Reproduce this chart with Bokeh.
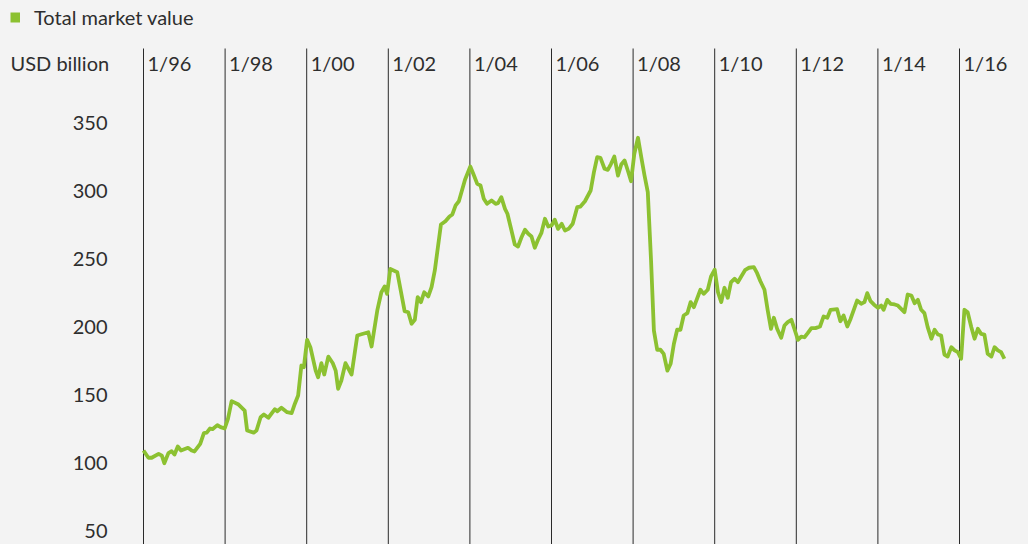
from bokeh.plotting import figure
from bokeh.models import (Range1d, Legend, LegendItem, Label, LabelSet,
                          ColumnDataSource)
from bokeh.core.properties import value
from bokeh.embed import file_html
from bokeh.resources import INLINE

# ---------------- data ----------------
series_name = "Total market value"
unit_label = "USD billion"

# dates as decimal years (month resolution), values in USD billion
dates = [
    1996.00, 1996.12, 1996.20, 1996.37, 1996.45, 1996.51, 1996.61, 1996.69, 1996.76, 1996.84,
    1996.92, 1997.09, 1997.18, 1997.25, 1997.39, 1997.48, 1997.55, 1997.63, 1997.69, 1997.81,
    1997.89, 1997.99, 1998.07, 1998.16, 1998.33, 1998.48, 1998.54, 1998.70, 1998.77, 1998.87,
    1998.95, 1999.06, 1999.22, 1999.28, 1999.38, 1999.52, 1999.63, 1999.71, 1999.79, 1999.87,
    1999.93, 2000.01, 2000.09, 2000.22, 2000.28, 2000.36, 2000.43, 2000.53, 2000.64, 2000.71,
    2000.77, 2000.85, 2000.95, 2001.10, 2001.24, 2001.32, 2001.51, 2001.59, 2001.73, 2001.83,
    2001.91, 2001.97, 2002.05, 2002.22, 2002.40, 2002.49, 2002.57, 2002.65, 2002.72, 2002.80,
    2002.88, 2002.98, 2003.06, 2003.14, 2003.29, 2003.40, 2003.50, 2003.57, 2003.65, 2003.73,
    2003.88, 2004.01, 2004.10, 2004.18, 2004.26, 2004.34, 2004.42, 2004.53, 2004.63, 2004.69,
    2004.77, 2004.86, 2004.92, 2005.00, 2005.10, 2005.18, 2005.26, 2005.35, 2005.43, 2005.51,
    2005.59, 2005.67, 2005.75, 2005.84, 2005.92, 2006.00, 2006.08, 2006.16, 2006.25, 2006.33,
    2006.42, 2006.52, 2006.63, 2006.71, 2006.82, 2006.96, 2007.04, 2007.12, 2007.20, 2007.30,
    2007.38, 2007.46, 2007.54, 2007.63, 2007.71, 2007.79, 2007.87, 2007.95, 2008.03, 2008.12,
    2008.20, 2008.28, 2008.36, 2008.44, 2008.51, 2008.59, 2008.67, 2008.75, 2008.84, 2008.92,
    2009.00, 2009.08, 2009.16, 2009.24, 2009.33, 2009.41, 2009.49, 2009.65, 2009.73, 2009.83,
    2009.91, 2010.00, 2010.08, 2010.16, 2010.24, 2010.32, 2010.40, 2010.49, 2010.57, 2010.65,
    2010.75, 2010.84, 2010.96, 2011.04, 2011.12, 2011.22, 2011.30, 2011.38, 2011.45, 2011.53,
    2011.63, 2011.71, 2011.79, 2011.88, 2011.96, 2012.04, 2012.12, 2012.20, 2012.28, 2012.37,
    2012.47, 2012.58, 2012.67, 2012.76, 2012.84, 2013.00, 2013.08, 2013.16, 2013.25, 2013.33,
    2013.49, 2013.59, 2013.67, 2013.74, 2013.82, 2013.90, 2014.00, 2014.08, 2014.14, 2014.23,
    2014.31, 2014.41, 2014.49, 2014.57, 2014.65, 2014.73, 2014.82, 2014.90, 2014.98, 2015.06,
    2015.14, 2015.22, 2015.31, 2015.39, 2015.47, 2015.55, 2015.63, 2015.71, 2015.80, 2015.88,
    2015.96, 2016.04, 2016.12, 2016.20, 2016.29, 2016.37, 2016.45, 2016.53, 2016.61, 2016.69,
    2016.78, 2016.86, 2016.94, 2017.02, 2017.10,
]
market_value = [
    108.8, 103.5, 103.5, 106.4, 105.0, 99.5, 106.9, 108.3, 105.9, 111.8,
    108.8, 110.8, 108.8, 108.1, 113.7, 121.6, 122.0, 125.0, 124.5, 127.5,
    126.0, 125.0, 132.1, 145.1, 142.6, 138.2, 123.5, 122.0, 123.5, 133.3,
    135.3, 132.9, 139.2, 137.7, 140.2, 137.0, 136.3, 143.2, 149.3, 171.3,
    170.1, 190.2, 184.8, 167.6, 162.7, 173.0, 164.7, 177.9, 173.0, 167.6,
    154.2, 160.3, 173.0, 164.7, 193.4, 194.1, 195.8, 185.3, 211.8, 225.2,
    229.4, 224.0, 242.4, 239.9, 211.3, 210.5, 202.0, 204.9, 221.6, 217.9,
    225.2, 222.1, 228.9, 241.2, 275.0, 277.4, 280.9, 282.4, 289.0, 292.1,
    307.9, 317.6, 311.0, 304.9, 303.7, 293.9, 290.2, 292.6, 290.2, 290.7,
    295.1, 286.5, 282.9, 273.0, 260.3, 258.8, 265.2, 271.1, 268.2, 266.2,
    257.9, 263.8, 268.6, 279.2, 273.5, 274.3, 278.5, 271.8, 275.5, 270.6,
    271.8, 275.5, 287.7, 288.2, 292.1, 300.0, 313.5, 324.5, 324.0, 316.0,
    315.2, 319.6, 325.0, 311.0, 319.1, 322.1, 314.7, 306.8, 327.0, 338.8,
    324.5, 311.0, 298.8, 248.5, 197.0, 182.9, 182.9, 179.9, 167.6, 172.6,
    187.3, 197.6, 197.6, 208.1, 209.8, 217.9, 214.2, 227.0, 224.0, 227.0,
    236.8, 241.7, 225.2, 217.9, 228.5, 221.1, 232.6, 235.1, 232.6, 236.8,
    241.7, 243.2, 243.6, 239.2, 233.3, 227.0, 211.8, 198.3, 206.4, 198.3,
    191.7, 200.7, 203.2, 204.9, 197.6, 190.2, 192.6, 192.1, 195.1, 198.8,
    198.8, 200.0, 207.4, 206.4, 212.3, 212.7, 203.9, 208.1, 200.0, 205.6,
    219.1, 216.7, 217.9, 224.5, 218.6, 216.2, 213.7, 215.4, 212.3, 219.6,
    216.7, 216.2, 215.4, 213.0, 210.5, 223.5, 222.8, 217.1, 219.6, 212.3,
    209.8, 199.5, 191.0, 197.6, 194.1, 193.4, 179.4, 177.9, 184.8, 182.4,
    181.1, 176.3, 212.3, 210.5, 199.5, 191.0, 198.3, 194.6, 194.1, 180.0,
    177.9, 184.8, 182.4, 181.1, 176.3,
]

x_tick_years = [1996, 1998, 2000, 2002, 2004, 2006, 2008, 2010, 2012, 2014, 2016]
x_tick_labels = ["1/96", "1/98", "1/00", "1/02", "1/04", "1/06",
                 "1/08", "1/10", "1/12", "1/14", "1/16"]
y_ticks = [50, 100, 150, 200, 250, 300, 350]
y_tick_labels = ["50", "100", "150", "200", "250", "300", "350"]

# ---------------- style / layout ----------------
BG = "#f3f3f3"
GREEN = "#8cc131"
TEXT = "#2e2e2e"
RULE = "#2a2a2a"
FONT = "Lato"
FS = "20px"

W, H = 1028, 544               # Bokeh's page template has no body margin
PX_PER_YEAR = 40.8             # horizontal scale
PX_PER_UNIT = 1.36             # vertical scale (px per USD bn)
X_1996_PX = 143                # canvas x of Jan 1996
Y_100_PX = 462                 # canvas y of 100
RULE_TOP_PX = 48               # where the year rules start
HEADER_PX = 62                 # vertical centre of the header texts

x0 = 1996 - X_1996_PX / PX_PER_YEAR
x1 = x0 + W / PX_PER_YEAR
y1 = 100 + Y_100_PX / PX_PER_UNIT
y0 = y1 - H / PX_PER_UNIT
rule_top = y1 - RULE_TOP_PX / PX_PER_UNIT

p = figure(width=W, height=H, output_backend="svg", toolbar_location=None,
           x_range=Range1d(x0, x1), y_range=Range1d(y0, y1),
           x_axis_location=None, y_axis_location=None,
           min_border=0, background_fill_color=BG, border_fill_color=BG,
           outline_line_color=None)
p.grid.visible = False

# vertical year rules
tick_src = ColumnDataSource(data=dict(x=x_tick_years, label=x_tick_labels))
p.segment(x0="x", x1="x", y0=y0, y1=rule_top, source=tick_src,
          line_color=RULE, line_width=1)

# data line
src = ColumnDataSource(data=dict(date=dates, value=market_value))
p.line(x="date", y="value", source=src, line_color=GREEN, line_width=3.8,
       line_join="round")

# legend swatch: hidden, thick twin of the series; its legend glyph is a
# short 10px-wide stroke, i.e. a 10x10 square
swatch = p.line(x="date", y="value", source=src, line_color=GREEN,
                line_width=10, line_cap="butt", visible=False)

# year labels beside the rules
p.add_layout(LabelSet(x="x", y=H - HEADER_PX, y_units="screen", text="label",
                      source=tick_src, x_offset=4, text_baseline="middle",
                      text_align="left", text_font=value(FONT),
                      text_font_size=value(FS), text_color=TEXT))

# y tick labels (right aligned)
ytick_src = ColumnDataSource(data=dict(y=y_ticks, label=y_tick_labels))
p.add_layout(LabelSet(x=107, x_units="screen", y="y", text="label",
                      source=ytick_src, text_baseline="middle",
                      text_align="right", text_font=value(FONT),
                      text_font_size=value(FS), text_color=TEXT))

# unit label
p.add_layout(Label(x=10, y=H - HEADER_PX, x_units="screen", y_units="screen",
                   text=unit_label, text_baseline="middle",
                   text_font=FONT, text_font_size=FS, text_color=TEXT))

legend = Legend(items=[LegendItem(label=series_name, renderers=[swatch])],
                location=(10, H - 29),
                padding=0, margin=0, spacing=0, border_line_color=None,
                background_fill_alpha=0, glyph_width=10, glyph_height=24,
                label_standoff=14, label_height=24,
                label_text_font=FONT, label_text_font_size=FS,
                label_text_color=TEXT)
p.add_layout(legend)

html = file_html(p, INLINE)
html = html.replace("</head>", "<style>body{background:%s;}</style></head>" % BG, 1)
with open("out.html", "w") as f:
    f.write(html)
